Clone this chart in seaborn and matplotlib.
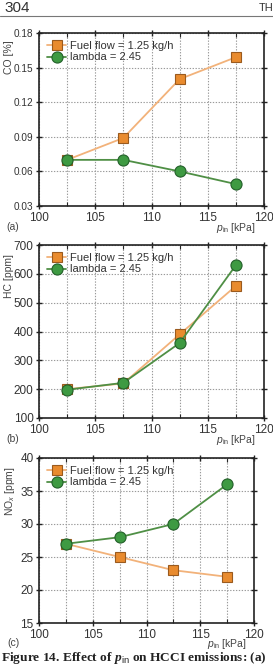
import numpy as np
import pandas as pd
import matplotlib
matplotlib.use("Agg")
import matplotlib.pyplot as plt
import seaborn as sns

sns.set_theme(style="white")
plt.rcParams['font.family'] = ['Liberation Sans', 'DejaVu Sans']
plt.rcParams['mathtext.fontset'] = 'custom'
plt.rcParams['mathtext.rm'] = 'Liberation Sans'
plt.rcParams['mathtext.it'] = 'Liberation Sans:italic'
plt.rcParams['mathtext.bf'] = 'Liberation Serif:bold:italic'

p_in = [102.5, 107.5, 112.5, 117.5]
series_names = ["Fuel flow = 1.25 kg/h", "lambda = 2.45"]

co_fuel = [0.070, 0.089, 0.140, 0.159]
co_lambda = [0.070, 0.070, 0.060, 0.049]
hc_fuel = [200, 220, 390, 558]
hc_lambda = [198, 222, 360, 630]
nox_fuel = [27, 25, 23, 22]
nox_lambda = [27, 28, 30, 36]

co_ticks = [0.03, 0.06, 0.09, 0.12, 0.15, 0.18]
co_ticklabels = ["0.03", "0.06", "0.09", "0.12", "0.15", "0.18"]
hc_ticks = [100, 200, 300, 400, 500, 600, 700]
nox_ticks = [15, 20, 25, 30, 35, 40]
x_ticks = [100, 105, 110, 115, 120]

orange_fill = "#E98B2E"
orange_edge = "#9A5A1E"
orange_line = "#F2B27A"
green_fill = "#3E9A42"
green_edge = "#23602A"
green_line = "#4F8F45"

W, H = 273, 668
fig = plt.figure(figsize=(W / 100, H / 100), dpi=100)

def ax_at(left, top, right, bottom):
    return fig.add_axes([left / W, 1 - bottom / H, (right - left) / W, (bottom - top) / H])

panels = [
    dict(box=(39, 33, 264, 206), fuel=co_fuel, lam=co_lambda, ylim=(0.03, 0.18), ticks=co_ticks,
         labels=co_ticklabels, ylabel="CO [%]", tag="(a)", fs=7.2, ylab_y=0.86),
    dict(box=(39, 245, 264, 418), fuel=hc_fuel, lam=hc_lambda, ylim=(100, 700), ticks=hc_ticks,
         labels=[str(t) for t in hc_ticks], ylabel="HC [ppm]", tag="(b)", fs=8.5, ylab_y=0.82),
    dict(box=(39, 458, 254, 623), fuel=nox_fuel, lam=nox_lambda, ylim=(15, 40), ticks=nox_ticks,
         labels=[str(t) for t in nox_ticks], ylabel="NO$_x$ [ppm]", tag="(c)", fs=8.5, ylab_y=0.80),
]

for p in panels:
    ax = ax_at(*p["box"])
    df = pd.DataFrame({"p": p_in * 2,
                       "v": p["fuel"] + p["lam"],
                       "s": [series_names[0]] * 4 + [series_names[1]] * 4})
    sns.lineplot(data=df[df.s == series_names[0]], x="p", y="v", ax=ax, color=orange_line,
                 lw=1.3, marker="s", markersize=7, markerfacecolor=orange_fill,
                 markeredgecolor=orange_edge, markeredgewidth=0.8, label=series_names[0])
    sns.lineplot(data=df[df.s == series_names[1]], x="p", y="v", ax=ax, color=green_line,
                 lw=1.3, marker="o", markersize=8, markerfacecolor=green_fill,
                 markeredgecolor=green_edge, markeredgewidth=0.8, label=series_names[1])
    ax.set_xlim(100, 120)
    ax.set_ylim(*p["ylim"])
    ax.set_xticks(x_ticks)
    ax.set_xticks([102.5, 107.5, 112.5, 117.5], minor=True)
    ax.set_yticks(p["ticks"])
    ax.set_yticklabels(p["labels"])
    ax.set_xlabel("")
    ax.set_ylabel("")
    ax.grid(True, which="both", axis="x", color="#9a9a9a", ls=(0, (1.2, 1.4)), lw=0.8)
    ax.grid(True, which="major", axis="y", color="#9a9a9a", ls=(0, (1.2, 1.4)), lw=0.8)
    for s in ax.spines.values():
        s.set_color("#222222")
        s.set_linewidth(1.2)
    ax.tick_params(which="major", direction="inout", length=5, width=1, color="#222222",
                   top=True, right=True, bottom=True, left=True, labelsize=p["fs"],
                   labelcolor="#333333", pad=1.5)
    ax.tick_params(axis="x", which="major", labelsize=8.5, pad=2)
    ax.tick_params(which="minor", direction="in", length=3, width=0.8, top=True, bottom=True)
    ax.text(0.965, -0.085, "$p_{\\mathrm{in}}$ [kPa]", transform=ax.transAxes, ha="right", va="top",
            fontsize=7.5, color="#444444")
    ax.text(-0.145, -0.09, p["tag"], transform=ax.transAxes, ha="left", va="top",
            fontsize=7.5, color="#444444")
    ax.text(-0.135, p["ylab_y"], p["ylabel"], transform=ax.transAxes, rotation=90,
            ha="center", va="center", fontsize=7.5, color="#444444")
    leg = ax.legend(loc="upper left", frameon=False, fontsize=8, handlelength=1.7,
                    handletextpad=0.3, borderaxespad=0.35, labelspacing=0.1)
    for t in leg.get_texts():
        t.set_color("#333333")

fig.text(4 / W, 1 - 8 / H, "304", ha="left", va="center", fontsize=11, color="#333333")
fig.text(259 / W, 1 - 8 / H, "TH", ha="left", va="center", fontsize=8, color="#333333")
fig.add_artist(plt.Line2D([0, 1], [1 - 16 / H, 1 - 16 / H], color="#777777", lw=0.8))
fig.text(1 / W, 1 - 658 / H, "Figure 14. Effect of $\\mathbf{p}_{\\mathrm{in}}$ on HCCI emissions: (a)",
         ha="left", va="center", fontsize=9.6, fontweight="bold",
         family=["Liberation Serif", "DejaVu Serif"], color="#222222")

fig.savefig("out.png", dpi=100)
